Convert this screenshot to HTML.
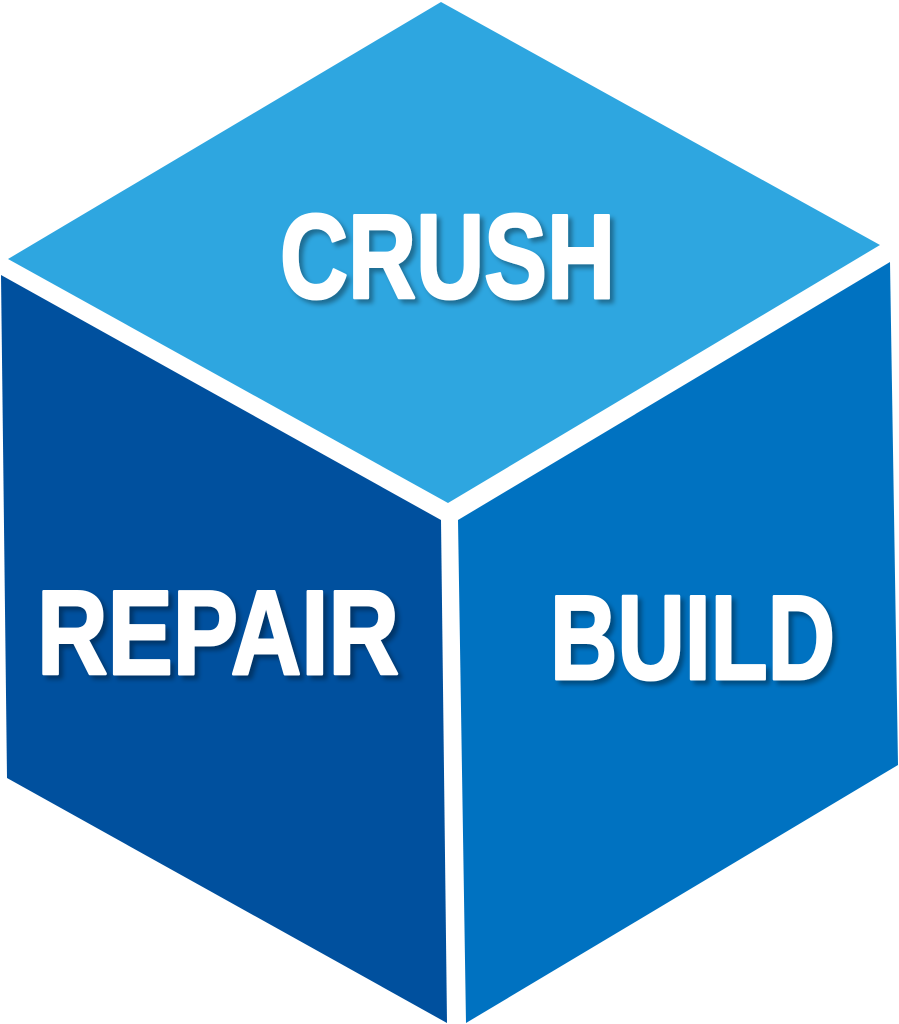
<!DOCTYPE html>
<html><head><meta charset="utf-8"><style>html,body{margin:0;padding:0;background:#fff}svg{display:block}</style></head>
<body>
<svg width="899" height="1024" viewBox="0 0 899 1024" xmlns="http://www.w3.org/2000/svg">
<defs><filter id="s" x="-10%" y="-20%" width="130%" height="150%"><feDropShadow dx="4" dy="4" stdDeviation="2.5" flood-color="#000" flood-opacity="0.35"/></filter></defs>
<polygon points="441,2 880,245 448,503 8,259" fill="#2EA6E0"/>
<polygon points="1,275 441,520 447,1023 7,778" fill="#00509E"/>
<polygon points="458,520 890,262 898,765 466,1023" fill="#0072C1"/>
<g font-family="Liberation Sans, sans-serif" font-weight="bold" fill="#fff" stroke="#fff" stroke-width="3" stroke-linejoin="round" font-size="120" filter="url(#s)">
<text x="280" y="298" textLength="335" lengthAdjust="spacingAndGlyphs">CRUSH</text>
<text x="37" y="674" textLength="362" lengthAdjust="spacingAndGlyphs">REPAIR</text>
<text x="550" y="679" textLength="285" lengthAdjust="spacingAndGlyphs">BUILD</text>
</g>
</svg>
</body></html>
